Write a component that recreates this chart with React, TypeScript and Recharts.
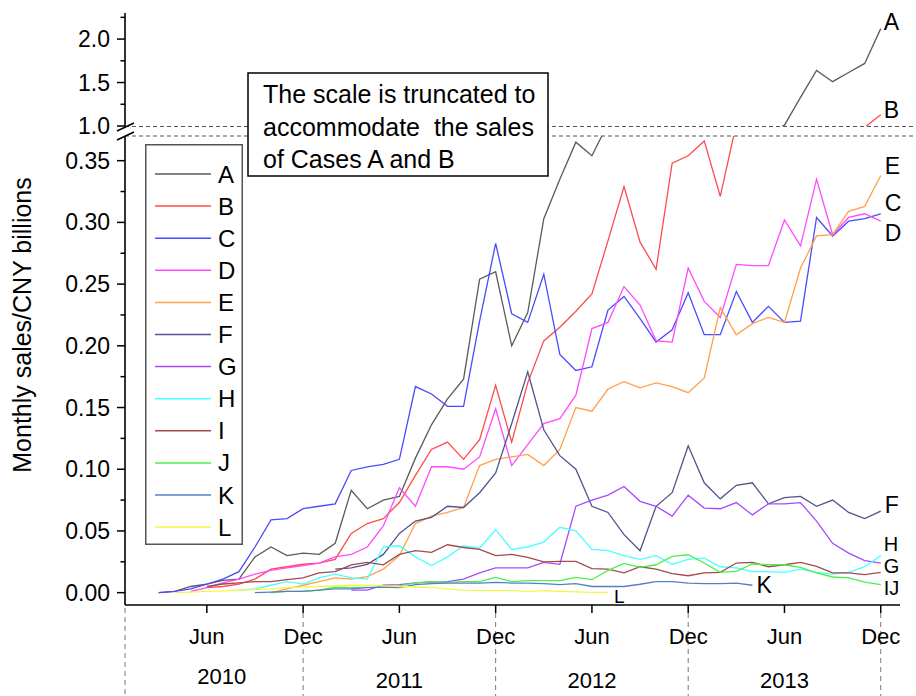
import React from 'react';
import { LineChart, Line, XAxis, YAxis, Legend } from 'recharts';

const FONT = "'Liberation Sans', Arial, Helvetica, sans-serif";

// month index, Jan 2010 = 0 ... Dec 2013 = 47
const MONTHS = [
  2, 3, 4, 5, 6, 7, 8, 9, 10, 11, 12, 13, 14, 15, 16, 17, 18, 19, 20, 21, 22, 23, 24,
  25, 26, 27, 28, 29, 30, 31, 32, 33, 34, 35, 36, 37, 38, 39, 40, 41, 42, 43, 44, 45, 46, 47,
];

const X_MIN = -0.1;
const X_MAX = 48.2;
const X_TICKS = [5, 11, 17, 23, 29, 35, 41, 47];
const X_TICK_LABELS = ['Jun', 'Dec', 'Jun', 'Dec', 'Jun', 'Dec', 'Jun', 'Dec'];
const YEAR_LABELS = ['2010', '2011', '2012', '2013'];

const LOWER_TICKS = [0, 0.025, 0.05, 0.075, 0.1, 0.125, 0.15, 0.175, 0.2, 0.225, 0.25, 0.275, 0.3, 0.325, 0.35];
const UPPER_TICKS = [1, 1.25, 1.5, 1.75, 2, 2.25];

// monthly sales, CNY billions (first value is at the series' start month)
const A_VALUES = [
  0.0, 0.001, 0.005, 0.007, 0.01, 0.011, 0.029, 0.037, 0.03, 0.032, 0.031, 0.04, 0.083, 0.068,
  0.075, 0.078, 0.109, 0.136, 0.157, 0.173, 0.254, 0.26, 0.2, 0.227, 0.303, 0.335, 0.365, 0.354,
  0.38, 0.45, 0.51, 0.57, 0.62, 0.67, 0.72, 0.77, 0.82, 0.87, 0.92, 1.01, 1.33, 1.64, 1.51, 1.615,
  1.72, 2.12,
];
const B_VALUES = [
  0.004, 0.005, 0.007, 0.011, 0.019, 0.021, 0.023, 0.024, 0.027, 0.048, 0.056, 0.06, 0.073, 0.095,
  0.116, 0.122, 0.108, 0.124, 0.168, 0.122, 0.17, 0.204, 0.215, 0.228, 0.242, 0.285, 0.329, 0.284,
  0.262, 0.348, 0.354, 0.366, 0.321, 0.38, 0.45, 0.52, 0.59, 0.66, 0.74, 0.82, 0.9, 0.985, 1.13,
];
const C_VALUES = [
  0.0, 0.001, 0.003, 0.007, 0.011, 0.017, 0.037, 0.059, 0.06, 0.068, 0.07, 0.072, 0.099, 0.102,
  0.104, 0.108, 0.167, 0.161, 0.151, 0.151, 0.22, 0.283, 0.226, 0.219, 0.258, 0.193, 0.18, 0.183,
  0.229, 0.24, 0.222, 0.203, 0.213, 0.243, 0.209, 0.209, 0.244, 0.219, 0.232, 0.219, 0.22, 0.304,
  0.289, 0.301, 0.303, 0.307,
];
const D_VALUES = [
  0.001, 0.004, 0.008, 0.011, 0.015, 0.018, 0.02, 0.022, 0.024, 0.029, 0.031, 0.037, 0.054, 0.085,
  0.07, 0.102, 0.102, 0.1, 0.11, 0.149, 0.103, 0.12, 0.137, 0.141, 0.16, 0.214, 0.219, 0.248, 0.233,
  0.204, 0.203, 0.263, 0.236, 0.223, 0.266, 0.265, 0.265, 0.302, 0.281, 0.335, 0.29, 0.304, 0.307,
  0.301,
];
const E_VALUES = [
  0.0, 0.003, 0.006, 0.009, 0.012, 0.011, 0.013, 0.019, 0.03, 0.056, 0.062, 0.065, 0.069, 0.103,
  0.108, 0.11, 0.112, 0.103, 0.116, 0.15, 0.147, 0.165, 0.171, 0.166, 0.17, 0.167, 0.162, 0.174,
  0.231, 0.209, 0.218, 0.223, 0.219, 0.263, 0.289, 0.29, 0.309, 0.313, 0.338,
];
const F_VALUES = [
  0.019, 0.02, 0.023, 0.031, 0.048, 0.058, 0.061, 0.07, 0.069, 0.081, 0.097, 0.137, 0.179, 0.132,
  0.111, 0.1, 0.07, 0.065, 0.047, 0.034, 0.07, 0.081, 0.119, 0.089, 0.076, 0.087, 0.089, 0.072,
  0.077, 0.078, 0.07, 0.075, 0.065, 0.06, 0.066,
];
const G_VALUES = [
  0.002, 0.002, 0.006, 0.0065, 0.008, 0.0085, 0.009, 0.011, 0.016, 0.02, 0.02, 0.02, 0.0245, 0.023,
  0.07, 0.075, 0.079, 0.086, 0.074, 0.07, 0.062, 0.079, 0.0685, 0.068, 0.073, 0.063, 0.072, 0.072,
  0.073, 0.058, 0.04, 0.032, 0.026, 0.024,
];
const H_VALUES = [
  0.002, 0.003, 0.006, 0.009, 0.007, 0.012, 0.015, 0.012, 0.011, 0.037, 0.038, 0.029, 0.022, 0.029,
  0.038, 0.036, 0.051, 0.035, 0.037, 0.041, 0.053, 0.05, 0.035, 0.034, 0.03, 0.027, 0.03, 0.023,
  0.027, 0.028, 0.021, 0.02, 0.017, 0.017, 0.0165, 0.019, 0.0165, 0.015, 0.0165, 0.021, 0.03,
];
const I_VALUES = [
  0.005, 0.007, 0.008, 0.009, 0.009, 0.0105, 0.012, 0.016, 0.017, 0.0225, 0.0245, 0.0225, 0.031,
  0.034, 0.0326, 0.0388, 0.0366, 0.035, 0.03, 0.031, 0.0285, 0.025, 0.0253, 0.0253, 0.0194, 0.019,
  0.016, 0.021, 0.019, 0.0154, 0.0137, 0.016, 0.0164, 0.024, 0.0245, 0.021, 0.0226, 0.0245, 0.0213,
  0.016, 0.016, 0.0146, 0.0164,
];
const J_VALUES = [
  0.0, 0.001, 0.001, 0.002, 0.0045, 0.004, 0.0043, 0.0045, 0.0055, 0.008, 0.009, 0.0083, 0.009,
  0.009, 0.0124, 0.009, 0.0097, 0.0097, 0.0097, 0.0124, 0.0105, 0.018, 0.0237, 0.0205, 0.0226,
  0.0294, 0.0307, 0.024, 0.0164, 0.0172, 0.0232, 0.0226, 0.0226, 0.0205, 0.016, 0.0127, 0.012,
  0.0086, 0.0065,
];
const K_VALUES = [
  0.0, 0.0005, 0.001, 0.001, 0.002, 0.003, 0.003, 0.004, 0.0045, 0.004, 0.0065, 0.0073, 0.0078,
  0.0078, 0.0078, 0.0083, 0.0078, 0.0078, 0.0073, 0.0065, 0.0073, 0.005, 0.005, 0.005, 0.0068,
  0.009, 0.009, 0.0078, 0.0073, 0.0073, 0.0078, 0.006,
];
const L_VALUES = [
  0.0, 0.0005, 0.001, 0.0015, 0.002, 0.0025, 0.003, 0.004, 0.0045, 0.005, 0.0055, 0.006, 0.006,
  0.0055, 0.005, 0.0046, 0.004, 0.003, 0.002, 0.0019, 0.0016, 0.0019, 0.001, 0.0016, 0.001, 0.0006,
  0.0003, 0.0003,
];

type Series = {
  key: string;
  start: number;
  values: number[];
  color: string;
  tag?: string;
  dx?: number;
  dy?: number;
  fs?: number;
};

const SERIES: Series[] = [
  { key: 'A', start: 2, values: A_VALUES, color: '#5a5a5a', tag: 'A', dx: 3, dy: 1 },
  { key: 'B', start: 5, values: B_VALUES, color: '#ff4a4a', tag: 'B', dx: 3, dy: 3 },
  { key: 'C', start: 2, values: C_VALUES, color: '#4a4aff', tag: 'C', dx: 4, dy: -3 },
  { key: 'D', start: 4, values: D_VALUES, color: '#ff4aff', tag: 'D', dx: 4, dy: 20 },
  { key: 'E', start: 9, values: E_VALUES, color: '#ffa04a', tag: 'E', dx: 4, dy: -1 },
  { key: 'F', start: 13, values: F_VALUES, color: '#52528f', tag: 'F', dx: 4, dy: 2 },
  { key: 'G', start: 14, values: G_VALUES, color: '#a64aff', tag: 'G', dx: 3, dy: 10, fs: 20 },
  { key: 'H', start: 7, values: H_VALUES, color: '#4affff', tag: 'H', dx: 3, dy: -5, fs: 20 },
  { key: 'I', start: 5, values: I_VALUES, color: '#a34a4a' },
  { key: 'J', start: 9, values: J_VALUES, color: '#4af04a', tag: 'IJ', dx: 3, dy: 10, fs: 20 },
  { key: 'K', start: 8, values: K_VALUES, color: '#5580c0', tag: 'K', dx: 4, dy: 8 },
  { key: 'L', start: 3, values: L_VALUES, color: '#f5f54a', tag: 'L', dx: 6, dy: 11, fs: 19 },
];

const rows = MONTHS.map((m) => {
  const row: Record<string, number | null> = { m };
  SERIES.forEach((s) => {
    const i = m - s.start;
    row[s.key] = i >= 0 && i < s.values.length ? s.values[i] : null;
  });
  return row;
});

const lastIndex = (s: Series) => MONTHS.indexOf(s.start + s.values.length - 1);

const endLabel = (s: Series) => (props: any) => {
  if (!s.tag || props.index !== lastIndex(s)) return null;
  return (
    <text x={props.x + (s.dx || 0)} y={props.y + (s.dy || 0)} fontSize={s.fs || 23} fontFamily={FONT} fill="#000">
      {s.tag}
    </text>
  );
};

const YTick = (props: any) => {
  const { x, y, payload, digits } = props;
  const v = payload.value;
  const major = Math.abs(v * 20 - Math.round(v * 20)) < 1e-6 && (digits === 2 || Math.abs(v * 2 - Math.round(v * 2)) < 1e-6);
  return (
    <g>
      <line x1={x - (major ? 8 : 4.5)} x2={x} y1={y} y2={y} stroke="#000" strokeWidth={1.5} />
      {major && (
        <text x={x - 15} y={y} textAnchor="end" dominantBaseline="central" fontSize={23} fontFamily={FONT} fill="#000">
          {v.toFixed(digits)}
        </text>
      )}
    </g>
  );
};

const XTick = (props: any) => {
  const { x, y, payload } = props;
  const v = payload.value;
  if (v === X_MIN) {
    return <line x1={x} x2={x} y1={y + 3} y2={696} stroke="#777" strokeWidth={1} strokeDasharray="5 4" />;
  }
  const i = X_TICKS.indexOf(v);
  const isDec = X_TICK_LABELS[i] === 'Dec';
  return (
    <g>
      {isDec && <line x1={x} x2={x} y1={y + 8} y2={696} stroke="#777" strokeWidth={1} strokeDasharray="5 4" />}
      <line x1={x} x2={x} y1={y} y2={y + 8} stroke="#000" strokeWidth={1.5} />
      <text x={x} y={y + 39} textAnchor="middle" fontSize={22} fontFamily={FONT} fill="#000">
        {X_TICK_LABELS[i]}
      </text>
      {!isDec && (
        <text x={x + (i === 0 ? 15 : 0)} y={y + (i === 0 ? 79 : 83)} textAnchor="middle" fontSize={22} fontFamily={FONT} fill="#000">
          {YEAR_LABELS[i / 2]}
        </text>
      )}
    </g>
  );
};

const LegendBox = (props: any) => {
  const items = props.payload || [];
  return (
    <svg width={98} height={401} style={{ display: 'block' }}>
      <rect x={0.75} y={0.75} width={96.5} height={399.5} fill="#fff" stroke="#555" strokeWidth={1.5} />
      {items.map((p: any, i: number) => {
        const cy = 30 + i * 32.1;
        return (
          <g key={p.value}>
            <line x1={10} x2={66} y1={cy} y2={cy} stroke={p.color} strokeWidth={1.5} />
            <text x={73} y={cy} dominantBaseline="central" fontSize={24} fontFamily={FONT} fill="#000">
              {p.value}
            </text>
          </g>
        );
      })}
    </svg>
  );
};

const axisStyle = { stroke: '#000', strokeWidth: 1.6 };

export default function App() {
  return (
    <div style={{ position: 'absolute', left: 0, top: 0, width: 916, height: 696, background: '#fff', fontFamily: FONT }}>
      <div style={{ position: 'absolute', left: 0, top: 0 }}>
        <LineChart width={916} height={696} data={rows} margin={{ top: 136, right: 16, bottom: 51, left: 0 }}>
          <XAxis
            type="number"
            dataKey="m"
            domain={[X_MIN, X_MAX]}
            ticks={[X_MIN, ...X_TICKS]}
            interval={0}
            height={40}
            allowDataOverflow
            tickLine={false}
            tickSize={0}
            tickMargin={0}
            axisLine={axisStyle}
            tick={(p: any) => <XTick {...p} />}
          />
          <YAxis
            type="number"
            domain={[-0.01, 0.37]}
            ticks={LOWER_TICKS}
            interval={0}
            width={125}
            allowDataOverflow
            tickLine={false}
            tickSize={0}
            tickMargin={0}
            axisLine={axisStyle}
            tick={(p: any) => <YTick {...p} digits={2} />}
          />
          <Legend
            layout="vertical"
            align="center"
            verticalAlign="middle"
            wrapperStyle={{ left: 145, top: 144, width: 98, height: 401 }}
            content={(p: any) => <LegendBox {...p} />}
          />
          {SERIES.map((s) => (
            <Line
              key={s.key}
              type="linear"
              dataKey={s.key}
              name={s.key}
              stroke={s.color}
              strokeWidth={1.3}
              dot={false}
              activeDot={false}
              isAnimationActive={false}
              label={s.key === 'A' || s.key === 'B' ? false : endLabel(s)}
            />
          ))}
        </LineChart>
      </div>
      <div style={{ position: 'absolute', left: 0, top: 0 }}>
        <LineChart width={916} height={140} data={rows} margin={{ top: 13, right: 16, bottom: 14, left: 0 }}>
          <XAxis type="number" dataKey="m" domain={[X_MIN, X_MAX]} hide allowDataOverflow />
          <YAxis
            type="number"
            domain={[1, 2.3]}
            ticks={UPPER_TICKS}
            interval={0}
            width={125}
            allowDataOverflow
            tickLine={false}
            tickSize={0}
            tickMargin={0}
            axisLine={axisStyle}
            tick={(p: any) => <YTick {...p} digits={1} />}
          />
          {SERIES.filter((s) => s.key === 'A' || s.key === 'B').map((s) => (
            <Line
              key={s.key}
              type="linear"
              dataKey={s.key}
              stroke={s.color}
              strokeWidth={1.3}
              dot={false}
              activeDot={false}
              isAnimationActive={false}
              label={endLabel(s)}
            />
          ))}
        </LineChart>
      </div>
      <svg width={916} height={696} style={{ position: 'absolute', left: 0, top: 0, pointerEvents: 'none' }}>
        <line x1={125} x2={916} y1={126.5} y2={126.5} stroke="#555" strokeWidth={1.2} strokeDasharray="4 3" />
        <line x1={125} x2={916} y1={136} y2={136} stroke="#555" strokeWidth={1.2} strokeDasharray="4 3" />
        <line x1={117} x2={134} y1={131} y2={123} stroke="#000" strokeWidth={1.5} />
        <line x1={117} x2={134} y1={140} y2={132} stroke="#000" strokeWidth={1.5} />
        <text transform="translate(31,325) rotate(-90)" textAnchor="middle" fontSize={25} fontFamily={FONT} fill="#000">
          Monthly sales/CNY billions
        </text>
        <rect x={248} y={73} width={300} height={103} fill="#fff" stroke="#000" strokeWidth={1.5} />
        <text x={263} y={103} fontSize={25} fontFamily={FONT} fill="#000">The scale is truncated to</text>
        <text x={263} y={136} fontSize={25} fontFamily={FONT} fill="#000" style={{ whiteSpace: 'pre' }}>accommodate  the sales</text>
        <text x={263} y={168} fontSize={25} fontFamily={FONT} fill="#000">of Cases A and B</text>
      </svg>
    </div>
  );
}
